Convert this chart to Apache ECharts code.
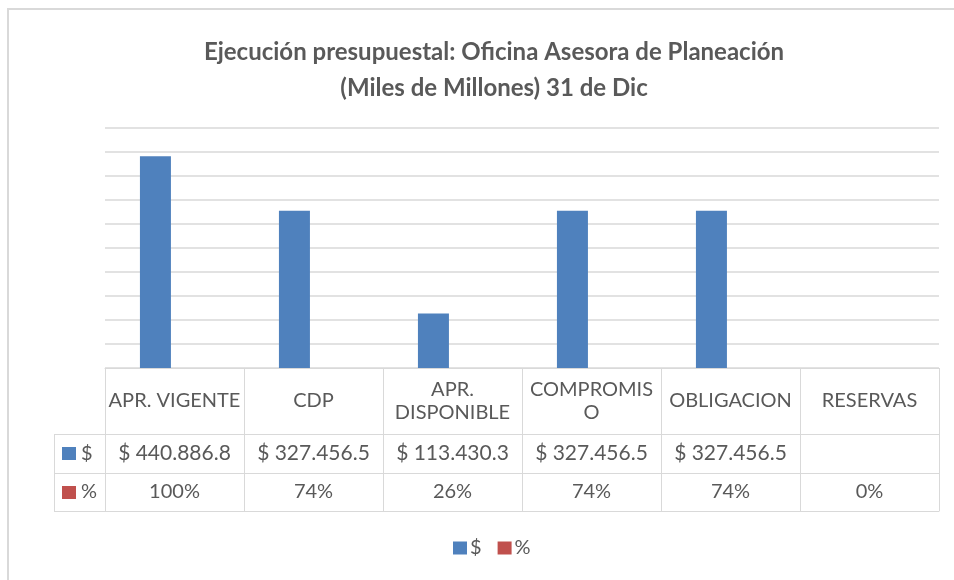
<!DOCTYPE html>
<html>
<head>
<meta charset="utf-8">
<script src="https://cdn.jsdelivr.net/npm/echarts@6/dist/echarts.min.js"></script>
<style>
html, body { margin: 0; padding: 0; background: #fff; }
#chart { width: 954px; height: 580px; }
</style>
</head>
<body>
<div id="chart"></div>
<script>
// datos de la tabla
var categorias = ['APR. VIGENTE', 'CDP', 'APR.\nDISPONIBLE', 'COMPROMIS\nO', 'OBLIGACION', 'RESERVAS'];
var valoresPesos = [440886.8, 327456.5, 113430.3, 327456.5, 327456.5, null];
var etiquetasPesos = ['$ 440.886.8', '$ 327.456.5', '$ 113.430.3', '$ 327.456.5', '$ 327.456.5', ''];
var valoresPct = [1, 0.74, 0.26, 0.74, 0.74, 0];
var etiquetasPct = ['100%', '74%', '26%', '74%', '74%', '0%'];

var fuente = 'Lato';
var gris = '#595959';
var linea = '#d9d9d9';

var chart = echarts.init(document.getElementById('chart'));

function ejeTabla(offset, largo, formatter, margen, tam) {
    return {
        type: 'category',
        data: categorias,
        position: 'bottom',
        offset: offset,
        axisLine: { show: true, lineStyle: { color: linea, width: 1 } },
        axisTick: { show: largo > 0, length: largo, interval: 0, lineStyle: { color: linea, width: 1 } },
        axisLabel: {
            show: !!formatter,
            interval: 0,
            margin: margen,
            verticalAlign: 'middle',
            color: gris,
            fontFamily: fuente,
            fontSize: tam || 20,
            lineHeight: 23,
            formatter: formatter
        },
        splitLine: { show: false }
    };
}

var option = {
    animation: false,
    textStyle: { fontFamily: fuente },
    title: {
        text: 'Ejecución presupuestal: Oficina Asesora de Planeación\n(Miles de Millones) 31 de Dic',
        left: 489,
        top: 29,
        textAlign: 'center',
        textStyle: { color: gris, fontFamily: fuente, fontSize: 24, fontWeight: 'bold', lineHeight: 36 }
    },
    legend: {
        data: ['$', '%'],
        left: 448,
        top: 533,
        icon: 'rect',
        itemWidth: 14,
        itemHeight: 13,
        itemGap: 16,
        textStyle: { color: gris, fontFamily: fuente, fontSize: 20, padding: [0, 0, 0, -2] }
    },
    grid: { left: 105, right: 15, top: 128, bottom: 212 },
    xAxis: [
        ejeTabla(0, 66, function (v) { return v; }, 33),
        ejeTabla(66, 39, function (v, i) { return etiquetasPesos[i]; }, 19.5, 21),
        ejeTabla(105, 38, function (v, i) { return etiquetasPct[i]; }, 19),
        ejeTabla(143, 0, null, 0)
    ],
    yAxis: {
        type: 'value',
        min: 0,
        max: 500000,
        interval: 50000,
        axisLabel: { show: false },
        axisLine: { show: false },
        axisTick: { show: false },
        splitLine: { lineStyle: { color: linea, width: 1.5 } }
    },
    series: [
        {
            name: '$',
            type: 'bar',
            xAxisIndex: 0,
            data: valoresPesos,
            barWidth: 31,
            barGap: '23%',
            itemStyle: { color: '#4F81BD' }
        },
        {
            name: '%',
            type: 'bar',
            xAxisIndex: 0,
            data: valoresPct,
            barWidth: 31,
            itemStyle: { color: '#C0504D' }
        }
    ],
    graphic: [
        // borde del área del gráfico
        { type: 'rect', shape: { x: 8, y: 9, width: 1000, height: 700 }, style: { fill: null, stroke: linea, lineWidth: 2 }, silent: true },
        // columna de leyenda de la tabla
        { type: 'line', shape: { x1: 54, y1: 434.5, x2: 105, y2: 434.5 }, style: { stroke: linea, lineWidth: 1 } },
        { type: 'line', shape: { x1: 54, y1: 473.5, x2: 105, y2: 473.5 }, style: { stroke: linea, lineWidth: 1 } },
        { type: 'line', shape: { x1: 54, y1: 511.5, x2: 105, y2: 511.5 }, style: { stroke: linea, lineWidth: 1 } },
        { type: 'line', shape: { x1: 54.5, y1: 434, x2: 54.5, y2: 512 }, style: { stroke: linea, lineWidth: 1 } },
        { type: 'rect', shape: { x: 62, y: 447, width: 14, height: 13 }, style: { fill: '#4F81BD' } },
        { type: 'text', x: 81, y: 454, style: { text: '$', fill: gris, font: '20px ' + fuente, verticalAlign: 'middle' } },
        { type: 'rect', shape: { x: 62, y: 486, width: 14, height: 13 }, style: { fill: '#C0504D' } },
        { type: 'text', x: 81, y: 492, style: { text: '%', fill: gris, font: '20px ' + fuente, verticalAlign: 'middle' } }
    ]
};

chart.setOption(option);
</script>
</body>
</html>
